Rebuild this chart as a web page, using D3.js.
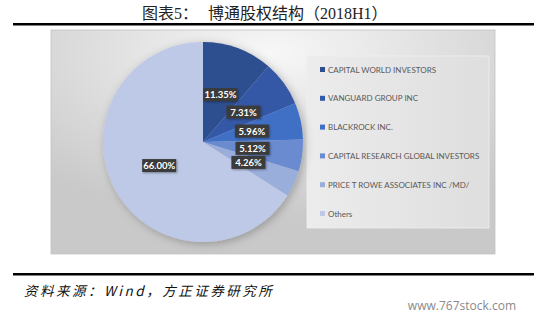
<!DOCTYPE html>
<html>
<head>
<meta charset="utf-8">
<script src="https://cdn.jsdelivr.net/npm/d3@7"></script>
<style>
  body { margin: 0; background: #fff; }
  svg { display: block; }
</style>
</head>
<body>
<svg id="chart" width="546" height="319"></svg>
<script>
// data
const holders = ['CAPITAL WORLD INVESTORS', 'VANGUARD GROUP INC', 'BLACKROCK INC.',
  'CAPITAL RESEARCH GLOBAL INVESTORS', 'PRICE T ROWE ASSOCIATES INC /MD/', 'Others']
const shares = [11.35, 7.31, 5.96, 5.12, 4.26, 66.00]
const sliceColors = ['#2d4f8f', '#3459a6', '#4170c6', '#6b8bd0', '#9aaedc', '#bdc9e6']

const svg = d3.select('#chart')

// title + rules
const title = svg.append('text')
  .attr('x', 142).attr('y', 19)
  .style('font-family', '"Liberation Serif", "Noto Sans CJK SC", serif')
  .style('font-size', '16px')
  .style('fill', '#222')
title.append('tspan').text('图表5：')
title.append('tspan').attr('x', 208).text('博通股权结构（2018H1）')

svg.append('rect').attr('x', 13).attr('y', 23).attr('width', 521).attr('height', 2.5).attr('fill', '#000')
svg.append('rect').attr('x', 13).attr('y', 273).attr('width', 521).attr('height', 2.5).attr('fill', '#000')

// chart background
const defs = svg.append('defs')
const bg = defs.append('radialGradient').attr('id', 'bg')
  .attr('cx', '50%').attr('cy', '10%').attr('r', '75%')
bg.append('stop').attr('offset', '0%').attr('stop-color', '#f7f7f7')
bg.append('stop').attr('offset', '100%').attr('stop-color', '#c9c9c9')

const lg = defs.append('linearGradient').attr('id', 'lg')
  .attr('x1', '0%').attr('y1', '0%').attr('x2', '100%').attr('y2', '0%')
lg.append('stop').attr('offset', '0%').attr('stop-color', '#ececec')
lg.append('stop').attr('offset', '100%').attr('stop-color', '#dedede')

const shadow = defs.append('filter').attr('id', 'glow')
  .attr('x', '-20%').attr('y', '-20%').attr('width', '140%').attr('height', '140%')
shadow.append('feDropShadow').attr('dx', 2).attr('dy', 2).attr('stdDeviation', 4)
  .attr('flood-color', '#000').attr('flood-opacity', 0.25)

const lblShadow = defs.append('filter').attr('id', 'lblShadow')
  .attr('x', '-20%').attr('y', '-30%').attr('width', '150%').attr('height', '180%')
lblShadow.append('feDropShadow').attr('dx', 1).attr('dy', 1).attr('stdDeviation', 1)
  .attr('flood-color', '#000').attr('flood-opacity', 0.35)

svg.append('rect')
  .attr('x', 51).attr('y', 30).attr('width', 444).attr('height', 224)
  .attr('fill', 'url(#bg)').attr('stroke', '#c2c2c2').attr('stroke-width', 0.8)

// legend panel
svg.append('rect')
  .attr('x', 307).attr('y', 56).attr('width', 182).attr('height', 172)
  .attr('fill', 'url(#lg)').attr('stroke', '#f0f0f0').attr('stroke-width', 0.8)

// pie
const cx = 203, cy = 142, radius = 100
const color = d3.scaleOrdinal().domain(holders).range(sliceColors)
const pie = d3.pie().sort(null).value((d, i) => shares[i])
const arcs = pie(holders)
const arc = d3.arc().innerRadius(0).outerRadius(radius)

const g = svg.append('g').attr('transform', `translate(${cx},${cy})`)

g.append('g').attr('filter', 'url(#glow)')
  .selectAll('path')
  .data(arcs)
  .enter()
  .append('path')
  .attr('d', arc)
  .attr('fill', (d) => color(d.data))

// labels sit on the arc centroid (half radius)
const lbl = g.selectAll('g.lbl')
  .data(arcs)
  .enter()
  .append('g')
  .attr('class', 'lbl')
  .attr('transform', (d) => `translate(${arc.centroid(d)})`)

lbl.append('rect')
  .attr('x', -17).attr('y', -7)
  .attr('width', 34).attr('height', 13)
  .attr('fill', '#3a3a3a')
  .attr('filter', 'url(#lblShadow)')

lbl.append('text')
  .attr('text-anchor', 'middle')
  .attr('dy', 3.3)
  .style('font-family', 'Lato, "Open Sans", sans-serif')
  .style('font-weight', 'bold')
  .style('font-size', '9.5px')
  .style('fill', '#fff')
  .text((d, i) => shares[i].toFixed(2) + '%')

// legend entries
const legendY = d3.scalePoint().domain(holders).range([70, 214])
const leg = svg.append('g')
  .selectAll('g')
  .data(holders)
  .enter()
  .append('g')
  .attr('transform', (d) => `translate(320,${legendY(d)})`)

leg.append('rect')
  .attr('x', 0).attr('y', -3)
  .attr('width', 5).attr('height', 5)
  .attr('fill', (d) => color(d))

leg.append('text')
  .attr('x', 8).attr('y', 2.5)
  .style('font-family', 'Lato, "Open Sans", sans-serif')
  .style('font-size', '8px')
  .style('fill', '#595959')
  .text((d) => d)

// source + watermark
svg.append('text')
  .attr('x', 24).attr('y', 296)
  .style('font-family', '"Noto Sans CJK SC", sans-serif')
  .style('font-style', 'italic')
  .style('font-size', '13.5px')
  .style('letter-spacing', '2.5px')
  .style('fill', '#111')
  .text('资料来源：Wind，方正证券研究所')

svg.append('text')
  .attr('x', 516).attr('y', 310)
  .attr('text-anchor', 'end')
  .style('font-family', '"Open Sans", sans-serif')
  .style('font-size', '12px')
  .style('fill', '#8a8a8a')
  .text('www.767stock.com')
</script>
</body>
</html>
